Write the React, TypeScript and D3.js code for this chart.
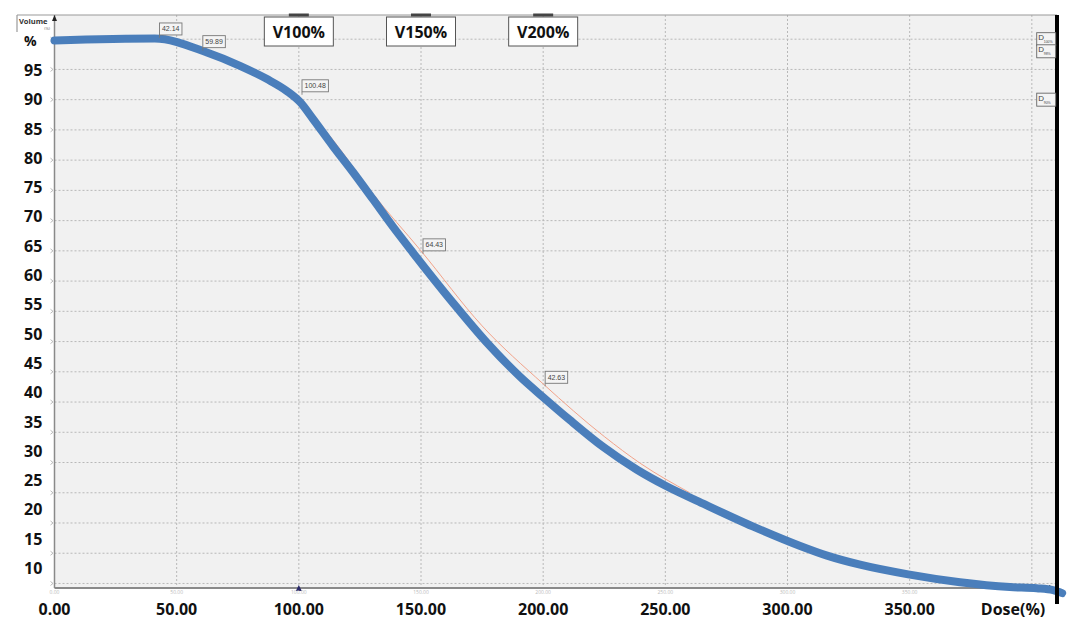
import React from "react";
import * as d3 from "d3";

// ---- Data ----
const doseValues = [0, 41, 62.4, 75.9, 87, 95.2, 100.5, 105.8, 114, 122.2, 130.4, 138.5, 146.7, 163.1, 177, 190.5, 200, 211, 224.5, 238.4, 249.9, 265.5, 286, 305.2, 316.2, 329.7, 349.4, 370.6, 391, 402, 408.7, 412.4];
const volumeValues = [99.8, 100.1, 97.8, 95.6, 93.4, 91.4, 89.6, 86.8, 82.3, 78.0, 73.5, 69.0, 64.7, 56.4, 49.8, 44.2, 40.8, 37.0, 32.6, 28.8, 26.2, 23.2, 19.4, 16.2, 14.6, 13.1, 11.5, 10.2, 9.4, 9.2, 8.9, 8.4];

const refDose = [100, 115, 130, 150, 175, 200, 225, 240, 260];
const refVolume = [90.2, 82.8, 74.6, 65.0, 52.6, 43.0, 34.3, 29.8, 25.0];

const xTickValues = [0, 50, 100, 150, 200, 250, 300, 350];
const xTickLabels = ["0.00", "50.00", "100.00", "150.00", "200.00", "250.00", "300.00", "350.00"];
const xGridValues = [50, 100, 150, 200, 250, 300, 350, 400];
const xAxisTitle = "Dose(%)";

const yTickValues = [100, 95, 90, 85, 80, 75, 70, 65, 60, 55, 50, 45, 40, 35, 30, 25, 20, 15, 10];
const yTickLabels = ["%", "95", "90", "85", "80", "75", "70", "65", "60", "55", "50", "45", "40", "35", "30", "25", "20", "15", "10"];
const yGridValues = [10, 15, 20, 25, 30, 35, 40, 45, 50, 55, 60, 65, 70, 75, 80, 85, 90, 95, 100];

const annotDose = [42.14, 59.89, 100.48, 150, 200];
const annotVolume = [100.7, 98.6, 91.3, 65.0, 43.1];
const annotText = ["42.14", "59.89", "100.48", "64.43", "42.63"];

const vLabelDose = [100, 150, 200];
const vLabelText = ["V100%", "V150%", "V200%"];

const dLabelVolume = [100, 98, 90];
const dLabelSub = ["100%", "98%", "90%"];

const W = 1080;
const H = 627;
const FONT = "'Open Sans', 'DejaVu Sans', sans-serif";

export default function App() {
  const x = d3.scaleLinear().domain([0, 410.3]).range([54.5, 1057]);
  const y = d3.scaleLinear().domain([9.25, 104]).range([588, 15]);
  // tick labels in the reference are laid out with a slightly tighter spacing
  const yLab = d3.scaleLinear().domain([10, 95]).range([568, 70]);

  const [x0, x1] = x.range();
  const [yb, yt] = y.range();

  const pts: [number, number][] = doseValues.map((d, i) => [d, volumeValues[i]]);
  const refPts: [number, number][] = refDose.map((d, i) => [d, refVolume[i]]);
  const line = d3
    .line<[number, number]>()
    .x((d) => x(d[0]))
    .y((d) => y(d[1]))
    .curve(d3.curveMonotoneX);

  return (
    <svg width={W} height={H} style={{ position: "absolute", left: 0, top: 0, background: "#fff" }}>
      {/* plot background */}
      <rect x={x0} y={yt} width={x1 - x0} height={yb - yt} fill="#f1f1f1" />

      {/* grid */}
      {yGridValues.map((v) => (
        <line key={"hg" + v} x1={x0} x2={x1} y1={y(v)} y2={y(v)} stroke="#b8b8b8" strokeWidth={1} strokeDasharray="2,2" />
      ))}
      {xGridValues.map((v) => (
        <line key={"vg" + v} x1={x(v)} x2={x(v)} y1={yt} y2={yb} stroke="#b8b8b8" strokeWidth={1} strokeDasharray="2,2" />
      ))}

      {/* small left ticks */}
      {yGridValues.map((v) => (
        <path key={"lt" + v} d={`M${x0 - 4},${y(v) - 2} L${x0 - 1.5},${y(v)} L${x0 - 4},${y(v) + 2}`} fill="none" stroke="#aaa" strokeWidth={0.8} />
      ))}

      {/* top border & volume box */}
      <line x1={17} x2={x1} y1={yt} y2={yt} stroke="#9a9a9a" strokeWidth={1.2} />
      <line x1={17} x2={17} y1={yt} y2={32} stroke="#9a9a9a" strokeWidth={1.2} />
      <text x={19} y={24} fontFamily={FONT} fontSize={7.5} fontWeight={700} fill="#333">Volume</text>
      <text x={50} y={30} fontFamily={FONT} fontSize={4} fill="#666" textAnchor="end">(%)</text>

      {/* axes */}
      <line x1={x0} x2={x0} y1={yt} y2={yb} stroke="#8a8a8a" strokeWidth={1.5} />
      <line x1={x0} x2={x1} y1={yb} y2={yb} stroke="#8a8a8a" strokeWidth={2} />
      <path d={`M${x0 - 2.5},${yt + 6} L${x0},${yt} L${x0 + 2.5},${yt + 6} Z`} fill="#222" />
      <path d={`M${x1 - 8},${yb - 3} L${x1 - 2},${yb} L${x1 - 8},${yb + 3} Z`} fill="#222" />
      <path d={`M${x(100) - 3},${yb + 3} L${x(100)},${yb - 3} L${x(100) + 3},${yb + 3} Z`} fill="#2a2a6a" />

      {/* faint tiny x tick texts */}
      {[0, ...xGridValues.slice(0, 7)].map((v) => (
        <text key={"ft" + v} x={x(v)} y={594} fontFamily={FONT} fontSize={5} fill="#bbb" textAnchor="middle">
          {v.toFixed(2)}
        </text>
      ))}

      {/* reference thin line and DVH curve */}
      <path d={line(refPts) || ""} fill="none" stroke="#f2a38a" strokeWidth={1} />
      <path d={line(pts) || ""} fill="none" stroke="#4a7ebb" strokeWidth={8} strokeLinecap="round" strokeLinejoin="round" />

      {/* right thick black line */}
      <line x1={x1} x2={x1} y1={yt} y2={604} stroke="#000" strokeWidth={4} />

      {/* V labels */}
      {vLabelDose.map((d, i) => (
        <g key={"v" + d}>
          <rect x={x(d) - 10} y={yt - 1.5} width={20} height={3} fill="#444" />
          <rect x={x(d) - 34.5} y={17} width={69} height={29} fill="#fff" stroke="#555" strokeWidth={1} />
          <text x={x(d)} y={31.5} fontFamily={FONT} fontSize={16} fontWeight={700} fill="#111" textAnchor="middle" dominantBaseline="central">
            {vLabelText[i]}
          </text>
        </g>
      ))}

      {/* annotation boxes */}
      {annotDose.map((d, i) => {
        const w = annotText[i].length * 3.9 + 3;
        const bx = x(d) + 2;
        const by = y(annotVolume[i]);
        return (
          <g key={"a" + i}>
            <line x1={bx} x2={bx} y1={by} y2={by + 3} stroke="#777" strokeWidth={0.8} />
            <rect x={bx} y={by - 12} width={w} height={12} fill="#f4f4f4" stroke="#777" strokeWidth={0.9} />
            <text x={bx + w / 2} y={by - 6} fontFamily="'Liberation Sans', Arial, sans-serif" fontSize={7} fill="#444" textAnchor="middle" dominantBaseline="central">
              {annotText[i]}
            </text>
          </g>
        );
      })}

      {/* D labels on the right */}
      {dLabelVolume.map((v, i) => {
        const bx = x(402);
        const cy = y(v);
        return (
          <g key={"d" + i}>
            <rect x={bx} y={cy - 6.5} width={19} height={13} fill="#f4f4f4" stroke="#666" strokeWidth={0.9} />
            <text x={bx + 1.5} y={cy + 1} fontFamily="'Liberation Sans', Arial, sans-serif" fontSize={8} fill="#444">D</text>
            <text x={bx + 7} y={cy + 4} fontFamily="'Liberation Sans', Arial, sans-serif" fontSize={3.5} fill="#444">{dLabelSub[i]}</text>
          </g>
        );
      })}

      {/* y tick labels */}
      {yTickValues.map((v, i) => (
        <text key={"yl" + v} x={24} y={yLab(v)} fontFamily={FONT} fontSize={v === 100 ? 14 : 16} fontWeight={700} fill="#111" dominantBaseline="central">
          {yTickLabels[i]}
        </text>
      ))}

      {/* x tick labels */}
      {xTickValues.map((v, i) => (
        <text key={"xl" + v} x={x(v)} y={609} fontFamily={FONT} fontSize={16} fontWeight={700} fill="#111" textAnchor="middle" dominantBaseline="central">
          {xTickLabels[i]}
        </text>
      ))}
      <text x={x(405.5)} y={609} fontFamily={FONT} fontSize={16} fontWeight={700} fill="#111" textAnchor="end" dominantBaseline="central">
        {xAxisTitle}
      </text>
    </svg>
  );
}
